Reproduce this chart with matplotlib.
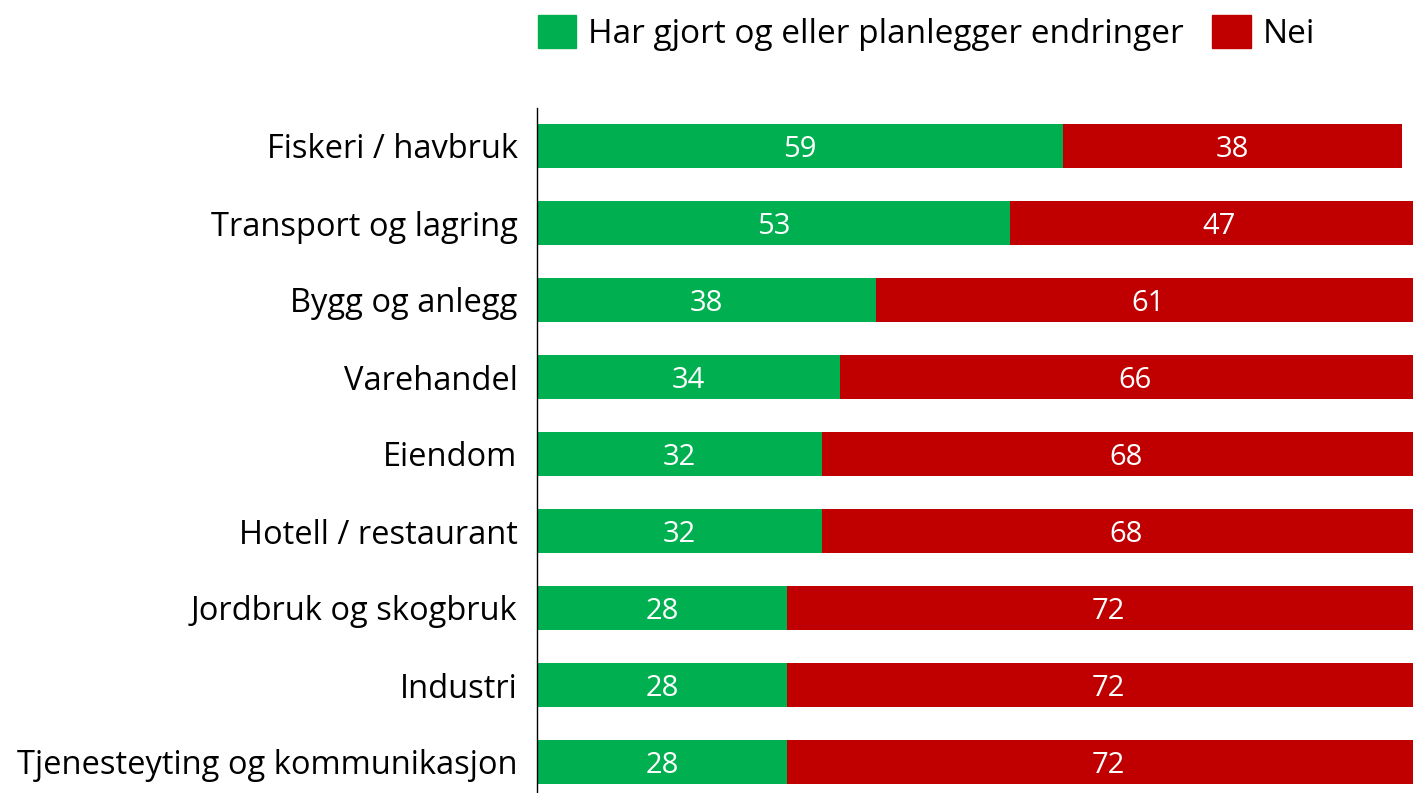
import matplotlib
matplotlib.use("Agg")
import matplotlib.pyplot as plt
from matplotlib.patches import Rectangle

categories = ["Fiskeri / havbruk", "Transport og lagring", "Bygg og anlegg", "Varehandel",
              "Eiendom", "Hotell / restaurant", "Jordbruk og skogbruk", "Industri",
              "Tjenesteyting og kommunikasjon"]
ja = [59, 53, 38, 34, 32, 32, 28, 28, 28]
nei = [38, 47, 61, 66, 68, 68, 72, 72, 72]
series_names = ["Har gjort og eller planlegger endringer", "Nei"]
colors = ["#00B050", "#C00000"]

plt.rcParams['font.family'] = ['Open Sans', 'DejaVu Sans']

W, H = 1413, 793
fig = plt.figure(figsize=(W / 100, H / 100), dpi=100)
left = 537 / W
unit = 8.92
width = 100 * unit / W
top_px = 107.5
bottom_px = 762 + 38.5
ax = fig.add_axes([left, 1 - bottom_px / H, width, (bottom_px - top_px) / H])

y = list(range(len(categories)))
ax.barh(y, ja, height=0.57, color=colors[0], label=series_names[0])
ax.barh(y, nei, left=ja, height=0.57, color=colors[1], label=series_names[1])
for i in y:
    ax.text(ja[i] / 2, i, str(ja[i]), ha='center', va='center_baseline', color='white', fontsize=21)
    ax.text(ja[i] + nei[i] / 2, i, str(nei[i]), ha='center', va='center_baseline', color='white', fontsize=21)

ax.set_xlim(0, 100)
ax.set_ylim(len(categories) - 0.5, -0.5)
ax.set_yticks(y)
ax.set_yticklabels(categories, fontsize=23.5)
ax.tick_params(axis='y', length=0, pad=14)
ax.set_xticks([])
for s in ['top', 'right', 'bottom']:
    ax.spines[s].set_visible(False)
ax.spines['left'].set_color('black')
ax.spines['left'].set_linewidth(1.0)

# legend
handles = [Rectangle((0, 0), 1, 1, color=c) for c in colors]
leg = fig.legend(handles, series_names, loc='center left', bbox_to_anchor=(528 / W, 1 - 33 / H),
                 ncol=2, frameon=False, fontsize=24, handlelength=1.15, handleheight=1.15,
                 handletextpad=0.36, columnspacing=0.85, borderaxespad=0, borderpad=0.3)

fig.savefig("out.png", dpi=100)
